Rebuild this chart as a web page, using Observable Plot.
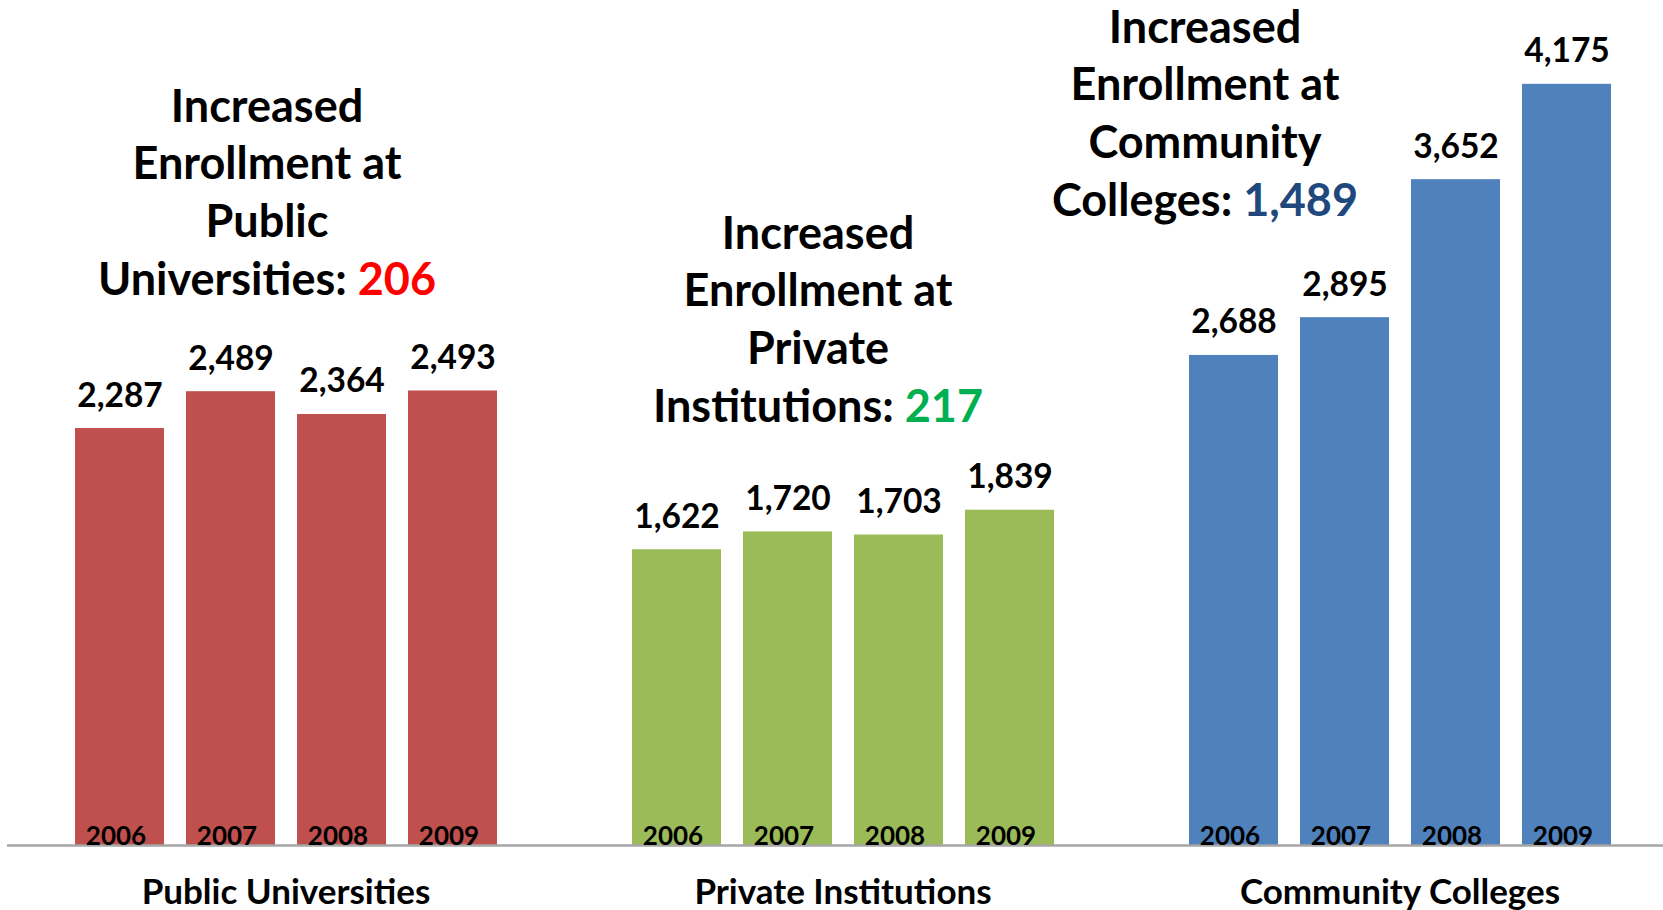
<!DOCTYPE html>
<html>
<head>
<meta charset="utf-8">
<script src="https://cdn.jsdelivr.net/npm/d3@7"></script>
<script src="https://cdn.jsdelivr.net/npm/@observablehq/plot@0.6"></script>
<style>
  html, body { margin: 0; padding: 0; background: #fff; }
  #chart svg { display: block; }
</style>
</head>
<body>
<div id="chart"></div>
<script>
// ---- data ----
const categories = ["Public Universities", "Private Institutions", "Community Colleges"];
const years = ["2006", "2007", "2008", "2009"];
const publicValues = [2287, 2489, 2364, 2493];
const privateValues = [1622, 1720, 1703, 1839];
const communityValues = [2688, 2895, 3652, 4175];
const increases = [206, 217, 1489];
const titleSubjects = ["Public\nUniversities", "Private\nInstitutions", "Community\nColleges"];
const barColors = ["#C0504D", "#9BBB59", "#4F81BD"];
const increaseColors = ["#FF0000", "#00B050", "#1F497D"];

const fmt = d3.format(",");
const seriesValues = [publicValues, privateValues, communityValues];
const data = categories.flatMap((c, i) =>
  years.map((y, j) => ({category: c, year: y, value: seriesValues[i][j]})));
const titles = categories.map((c, i) => ({
  category: c,
  text: `Increased\nEnrollment at\n${titleSubjects[i]}: ${fmt(increases[i])}`
}));

const font = {fontFamily: "Lato, 'Open Sans', sans-serif", fontWeight: "bold"};
// per-facet title placement (style only)
const titleOffsets = [{dx: -19, dy: 274}, {dx: -25, dy: 401}, {dx: -195, dy: 195}];

const chart = Plot.plot({
  width: 1663,
  height: 910,
  marginLeft: 74,
  marginRight: 52,
  marginTop: 20,
  marginBottom: 65,
  fx: {domain: categories, paddingInner: 0.2406, paddingOuter: 0, axis: null},
  x: {domain: years, paddingInner: 0.2, paddingOuter: 0, axis: null},
  y: {domain: [0, 4525], axis: null},
  color: {domain: categories, range: barColors},
  marks: [
    Plot.barY(data, {fx: "category", x: "year", y: "value", fill: "category"}),
    Plot.ruleY([0], {stroke: "#a6a6a6", strokeWidth: 2.5, insetLeft: -67, insetRight: -67}),
    Plot.text(data, {
      fx: "category", x: "year", y: "value", text: d => fmt(d.value),
      lineAnchor: "bottom", dy: -22, fontSize: 33.5, fill: "#000", ...font
    }),
    Plot.text(data, {
      fx: "category", x: "year", y: () => 0, text: "year",
      lineAnchor: "bottom", dx: -4, dy: -1, fontSize: 26, fill: "#000", ...font
    }),
    Plot.text(categories, {
      fx: d => d, text: d => d, frameAnchor: "bottom",
      lineAnchor: "bottom", dy: 58, fontSize: 35, fill: "#000", ...font
    }),
    ...titles.map((t, i) => Plot.text([t], {
      fx: "category", text: "text", frameAnchor: "top",
      lineAnchor: "bottom", lineHeight: 1.28,
      dx: titleOffsets[i].dx, dy: titleOffsets[i].dy,
      fontSize: 45, fill: "#000", ...font
    }))
  ]
});

// colour the increase numbers in the titles
const ns = "http://www.w3.org/2000/svg";
chart.querySelectorAll("tspan").forEach(ts => {
  increases.forEach((inc, i) => {
    const num = fmt(inc);
    const txt = ts.textContent;
    if (txt.endsWith(": " + num) && !ts.querySelector("tspan")) {
      ts.textContent = txt.slice(0, txt.length - num.length);
      const sub = document.createElementNS(ns, "tspan");
      sub.setAttribute("fill", increaseColors[i]);
      sub.textContent = num;
      ts.appendChild(sub);
    }
  });
});

document.getElementById("chart").appendChild(chart);
</script>
</body>
</html>
